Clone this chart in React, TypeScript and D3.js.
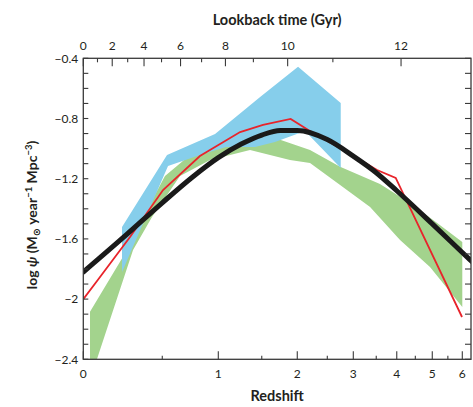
import React from "react";
import * as d3 from "d3";

// ---- data (redshift z, log psi) ----
const blackFitZ = [0, 0.25, 0.5, 0.75, 1, 1.25, 1.5, 1.75, 2, 2.5, 3, 3.5, 4, 5, 6, 6.35];
const blackFitV = [-1.82, -1.57, -1.36, -1.19, -1.06, -0.97, -0.91, -0.88, -0.88, -0.94, -1.05, -1.16, -1.28, -1.5, -1.69, -1.75];

const redZ = [0, 0.073, 0.271, 0.506, 0.82, 1.237, 1.516, 1.9, 2.253, 2.873, 3.519, 3.973, 5.99];
const redV = [-2.0, -1.88, -1.587, -1.275, -1.049, -0.89, -0.843, -0.803, -0.896, -1.023, -1.142, -1.195, -2.119];

const blueUpperZ = [0.22, 0.537, 0.967, 1.479, 2.012, 2.75];
const blueUpperV = [-1.521, -1.043, -0.903, -0.657, -0.456, -0.697];
const blueLowerZ = [0.22, 0.545, 0.82, 1.081, 1.415, 1.676, 2.122, 2.75];
const blueLowerV = [-1.82, -1.116, -1.043, -0.989, -0.989, -0.956, -0.883, -1.129];

const greenUpperZ = [0.035, 0.252, 0.359, 0.521, 0.73, 1.018, 1.415, 1.636, 2.203, 2.738, 3.587, 4.353, 5.152, 6.0];
const greenUpperV = [-2.084, -1.674, -1.455, -1.182, -1.043, -0.976, -0.93, -0.923, -1.009, -1.12, -1.235, -1.361, -1.494, -1.621];
const greenLowerZ = [0.035, 0.073, 0.291, 0.423, 0.643, 0.917, 1.354, 1.89, 2.203, 2.738, 3.36, 4.085, 4.93, 6.0];
const greenLowerV = [-2.564, -2.398, -1.674, -1.455, -1.182, -1.076, -1.009, -1.076, -1.096, -1.242, -1.388, -1.607, -1.787, -2.053];

const zTicks = [0, 1, 2, 3, 4, 5, 6];
const zMinorTicks = [0.5, 1.5, 2.5, 3.5, 4.5, 5.5];
const yTicks = [-0.4, -0.8, -1.2, -1.6, -2, -2.4];
const yMinorTicks = d3.range(-2.4, -0.35, 0.1);
const lookbackTicks = [0, 2, 4, 6, 8, 10, 12];
const lookbackMinorTicks = [1, 3, 5, 7, 9, 11];

// cosmology for top axis (H0=70, Om=0.3, OL=0.7)
const H0 = 70, Om = 0.3, OL = 0.7;
function lookback(z: number) {
  const n = 400;
  const f = (zz: number) => 1 / ((1 + zz) * Math.sqrt(Om * (1 + zz) ** 3 + OL));
  const h = z / n;
  let s = f(0) + f(z);
  for (let i = 1; i < n; i++) s += f(i * h) * (i % 2 ? 4 : 2);
  return (977.8 / H0) * (s * h) / 3;
}
function zOfLookback(t: number) {
  let lo = 0, hi = 30;
  for (let i = 0; i < 60; i++) {
    const m = (lo + hi) / 2;
    if (lookback(m) < t) lo = m; else hi = m;
  }
  return (lo + hi) / 2;
}

const W = 473, H = 407;
const L = 83.3, R = 471, T = 58.3, B = 359.3;
const zMax = 6.32;

const FONT = "Lato, 'Open Sans', 'DejaVu Sans', sans-serif";
const TXT = "#231f20";

export default function App() {
  const x = d3.scaleLog().domain([1, 1 + zMax]).range([L, R]);
  const y = d3.scaleLinear().domain([-2.4, -0.4]).range([B, T]);
  const px = (z: number) => x(1 + z);

  const zip = (zs: number[], vs: number[]) => zs.map((z, i) => [z, vs[i]] as [number, number]);
  const lin = d3.line<[number, number]>().x(d => px(d[0])).y(d => y(d[1]));
  const smooth = d3.line<[number, number]>().x(d => px(d[0])).y(d => y(d[1])).curve(d3.curveMonotoneX);

  const greenPoly = zip(greenUpperZ, greenUpperV).concat(zip(greenLowerZ, greenLowerV).reverse());
  const bluePoly = zip(blueUpperZ, blueUpperV).concat(zip(blueLowerZ, blueLowerV).reverse());

  const axisCol = "#3a3a3a";

  return (
    <svg width={W} height={H} style={{ position: "absolute", left: 0, top: 0, background: "#fff" }}>
      <defs>
        <clipPath id="plot">
          <rect x={L} y={T} width={R - L} height={B - T} />
        </clipPath>
      </defs>
      <g clipPath="url(#plot)">
        <path d={lin(greenPoly) + "Z"} fill="#a3d38d" />
        <path d={lin(bluePoly) + "Z"} fill="#86ceeb" />
        <path d={lin(zip(redZ, redV)) || ""} fill="none" stroke="#e8242b" strokeWidth={1.8} strokeLinejoin="miter" />
        <path d={smooth(zip(blackFitZ, blackFitV)) || ""} fill="none" stroke="#1a1a1a" strokeWidth={5} strokeLinecap="round" />
      </g>

      {/* frame */}
      <rect x={L} y={T} width={R - L} height={B - T} fill="none" stroke={axisCol} strokeWidth={1.3} />

      {/* left & right ticks */}
      {yMinorTicks.map((v, i) => (
        <g key={"ym" + i}>
          <line x1={L} x2={L + 5} y1={y(v)} y2={y(v)} stroke={axisCol} strokeWidth={1.1} />
          <line x1={R} x2={R - 6} y1={y(v)} y2={y(v)} stroke={axisCol} strokeWidth={1.1} />
        </g>
      ))}
      {yTicks.map((v, i) => (
        <text key={"yl" + i} x={L - 5} y={y(v)} dy="0.35em" textAnchor="end" fontFamily={FONT} fontSize={12} fill={TXT}>
          {v === -2 ? "\u22122" : "\u2212" + Math.abs(v).toFixed(1)}
        </text>
      ))}

      {/* bottom ticks */}
      {zMinorTicks.map((z, i) => (
        <line key={"zm" + i} x1={px(z)} x2={px(z)} y1={B} y2={B - 3.5} stroke={axisCol} strokeWidth={1.1} />
      ))}
      {zTicks.map((z, i) => (
        <g key={"zt" + i}>
          <line x1={px(z)} x2={px(z)} y1={B} y2={B - 8} stroke={axisCol} strokeWidth={1.1} />
          <text x={px(z)} y={B + 19} textAnchor="middle" fontFamily={FONT} fontSize={12} fill={TXT}>{z}</text>
        </g>
      ))}

      {/* top ticks (lookback time) */}
      {lookbackMinorTicks.map((t, i) => {
        const xx = px(zOfLookback(t));
        return <line key={"tm" + i} x1={xx} x2={xx} y1={T} y2={T + 4} stroke={axisCol} strokeWidth={1.1} />;
      })}
      {lookbackTicks.map((t, i) => {
        const xx = px(zOfLookback(t));
        return (
          <g key={"tt" + i}>
            <line x1={xx} x2={xx} y1={T} y2={T + 8} stroke={axisCol} strokeWidth={1.1} />
            <text x={xx} y={T - 8} textAnchor="middle" fontFamily={FONT} fontSize={12} fill={TXT}>{t}</text>
          </g>
        );
      })}

      {/* titles */}
      <text x={(L + R) / 2 + 0} y={25} textAnchor="middle" fontFamily={FONT} fontWeight="bold" fontSize={14.5} fill={TXT}>
        Lookback time (Gyr)
      </text>
      <text x={(L + R) / 2} y={401} textAnchor="middle" fontFamily={FONT} fontWeight="bold" fontSize={14.5} fill={TXT}>
        Redshift
      </text>
      <text transform={`translate(37,${215}) rotate(-90)`} textAnchor="middle" fontFamily={FONT} fontWeight="bold" fontSize={14} fill={TXT}>
        log <tspan fontStyle="italic">{"\u03C8"}</tspan> (M<tspan fontSize={10} dy={3}>{"\u2299"}</tspan>
        <tspan dy={-3}> year</tspan><tspan fontSize={9.5} dy={-5}>{"\u22121"}</tspan>
        <tspan dy={5}> Mpc</tspan><tspan fontSize={9.5} dy={-5}>{"\u22123"}</tspan><tspan dy={5}>)</tspan>
      </text>
    </svg>
  );
}
